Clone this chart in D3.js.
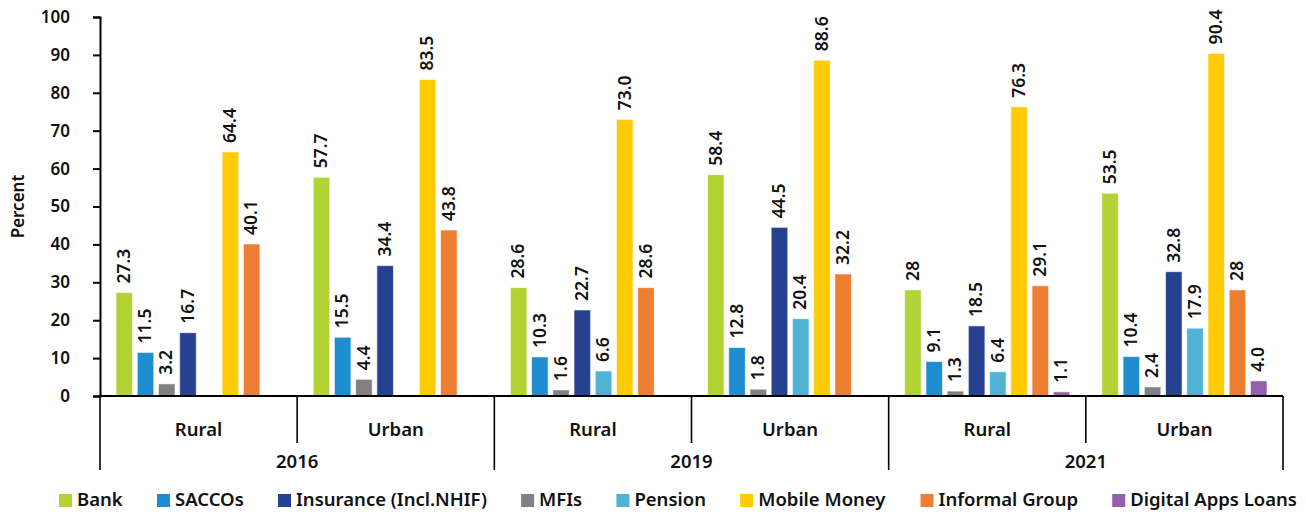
<!DOCTYPE html>
<html>
<head>
<meta charset="utf-8">
<script src="https://cdn.jsdelivr.net/npm/d3@7"></script>
<style>
  body { margin: 0; background: #fff; }
  text { font-family: "Noto Sans", sans-serif; font-weight: 600; fill: #111; }
</style>
</head>
<body>
<script>
// categories
var locations = ['Rural', 'Urban', 'Rural', 'Urban', 'Rural', 'Urban'];
var years = ['2016', '2019', '2021'];
var yTicks = [0, 10, 20, 30, 40, 50, 60, 70, 80, 90, 100];

// series, in bar order (strings keep the label text as printed)
var seriesNames = ['Bank', 'SACCOs', 'MFIs', 'Insurance (Incl.NHIF)', 'Pension', 'Mobile Money', 'Informal Group', 'Digital Apps Loans'];
var bank      = ['27.3', '57.7', '28.6', '58.4', '28', '53.5'];
var saccos    = ['11.5', '15.5', '10.3', '12.8', '9.1', '10.4'];
var mfis      = ['3.2', '4.4', '1.6', '1.8', '1.3', '2.4'];
var insurance = ['16.7', '34.4', '22.7', '44.5', '18.5', '32.8'];
var pension   = [null, null, '6.6', '20.4', '6.4', '17.9'];
var mobile    = ['64.4', '83.5', '73.0', '88.6', '76.3', '90.4'];
var informal  = ['40.1', '43.8', '28.6', '32.2', '29.1', '28'];
var digital   = [null, null, null, null, '1.1', '4.0'];
var seriesValues = [bank, saccos, mfis, insurance, pension, mobile, informal, digital];
var seriesColors = ['#b3d335', '#1f8dd1', '#808184', '#25418f', '#50b3d3', '#ffcb05', '#ee7e32', '#9360a9'];

// legend order differs from bar order
var legendOrder = ['Bank', 'SACCOs', 'Insurance (Incl.NHIF)', 'MFIs', 'Pension', 'Mobile Money', 'Informal Group', 'Digital Apps Loans'];

var width = 1306, height = 515;
var margin = {left: 100, right: 23, top: 17, bottom: 119};
var plotBottom = height - margin.bottom;

var svg = d3.select('body').append('svg')
  .attr('width', width)
  .attr('height', height);

var x0 = d3.scaleBand()
  .domain(d3.range(locations.length))
  .range([margin.left, width - margin.right])
  .padding(0);

var x1 = d3.scaleBand()
  .domain(d3.range(seriesNames.length))
  .range([16, x0.bandwidth() - 16])
  .paddingInner(0.22)
  .paddingOuter(0);

var y = d3.scaleLinear()
  .domain([0, 100])
  .range([plotBottom, margin.top]);

// y axis
var yAxis = svg.append('g')
  .attr('transform', 'translate(' + margin.left + ',0)')
  .call(d3.axisLeft(y).tickValues(yTicks).tickSizeOuter(0).tickSize(7).tickPadding(23));
yAxis.select('.domain').attr('stroke', '#000').attr('stroke-width', 2);
yAxis.selectAll('.tick line').attr('stroke', '#000').attr('stroke-width', 2);
yAxis.selectAll('.tick text').style('font-size', '17px').attr('fill', '#111');

svg.append('text')
  .attr('transform', 'translate(24,' + ((margin.top + plotBottom) / 2) + ') rotate(-90)')
  .attr('text-anchor', 'middle')
  .style('font-size', '17px')
  .text('Percent');

// bars
var groups = svg.append('g').selectAll('g')
  .data(locations)
  .join('g')
  .attr('transform', (d, i) => 'translate(' + x0(i) + ',0)');

groups.each(function(loc, gi) {
  var cells = seriesValues.map((vals, si) => ({s: si, label: vals[gi]}))
    .filter(d => d.label !== null);
  var g = d3.select(this);
  g.selectAll('rect')
    .data(cells)
    .join('rect')
    .attr('x', d => x1(d.s))
    .attr('width', x1.bandwidth())
    .attr('y', d => y(+d.label))
    .attr('height', d => plotBottom - y(+d.label))
    .attr('fill', d => seriesColors[d.s])
    .attr('stroke', '#fff')
    .attr('stroke-opacity', 0.6)
    .attr('stroke-width', 1);
  g.selectAll('text')
    .data(cells)
    .join('text')
    .attr('transform', d => 'translate(' + (x1(d.s) + x1.bandwidth() / 2 + 1) + ',' + (y(+d.label) - 9) + ') rotate(-90)')
    .attr('dominant-baseline', 'middle')
    .style('font-size', '17.5px')
    .text(d => d.label);
});

// x axis line
svg.append('line')
  .attr('x1', margin.left).attr('x2', width - margin.right)
  .attr('y1', plotBottom).attr('y2', plotBottom)
  .attr('stroke', '#000').attr('stroke-width', 2);

// group dividers
var dividers = d3.range(locations.length + 1);
svg.append('g').selectAll('line')
  .data(dividers)
  .join('line')
  .attr('x1', d => d < locations.length ? x0(d) : x0.range()[1])
  .attr('x2', d => d < locations.length ? x0(d) : x0.range()[1])
  .attr('y1', plotBottom)
  .attr('y2', d => d % 2 === 0 ? plotBottom + 74 : plotBottom + 47)
  .attr('stroke', '#000')
  .attr('stroke-width', 1.6);

svg.append('g').selectAll('text')
  .data(locations)
  .join('text')
  .attr('x', (d, i) => x0(i) + x0.bandwidth() / 2)
  .attr('y', plotBottom + 40)
  .attr('text-anchor', 'middle')
  .style('font-size', '18.5px')
  .text(d => d);

svg.append('g').selectAll('text')
  .data(years)
  .join('text')
  .attr('x', (d, i) => x0(i * 2) + x0.bandwidth())
  .attr('y', plotBottom + 72)
  .attr('text-anchor', 'middle')
  .style('font-size', '18.5px')
  .text(d => d);

// legend
var legend = svg.append('g');
var items = legend.selectAll('g')
  .data(legendOrder)
  .join('g');
items.append('rect')
  .attr('width', 13).attr('height', 13)
  .attr('y', -7)
  .attr('fill', d => seriesColors[seriesNames.indexOf(d)]);
items.append('text')
  .attr('x', 18)
  .attr('dominant-baseline', 'middle')
  .style('font-size', '18.5px')
  .text(d => d);

var legendLeft = 59, legendRight = 1297;
var itemWidths = [];
items.each(function() { itemWidths.push(this.getBBox().width); });
var gap = (legendRight - legendLeft - d3.sum(itemWidths)) / (itemWidths.length - 1);
var pos = legendLeft;
items.attr('transform', (d, i) => {
  var t = 'translate(' + pos + ',' + (plotBottom + 105) + ')';
  pos += itemWidths[i] + gap;
  return t;
});
</script>
</body>
</html>
